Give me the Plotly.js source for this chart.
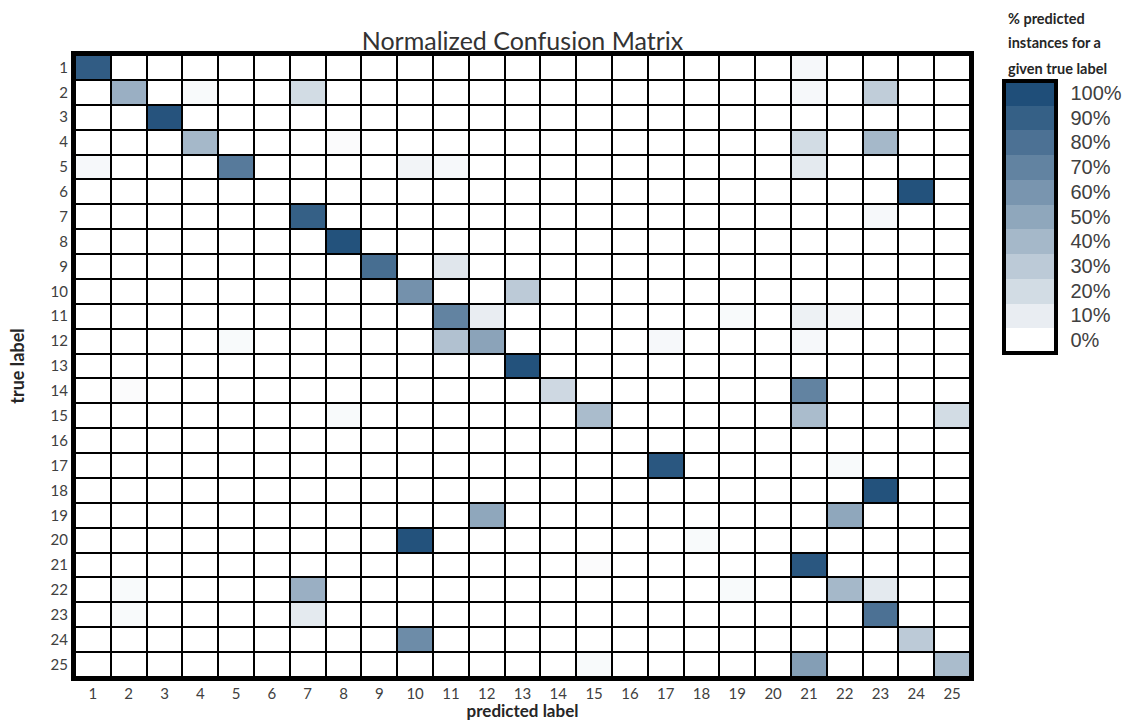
<!DOCTYPE html>
<html>
<head>
<meta charset="utf-8">
<script src="https://cdn.plot.ly/plotly-3.0.1.min.js"></script>
<style>
  html, body { margin: 0; padding: 0; background: #ffffff; }
  #chart { width: 1136px; height: 721px; }
</style>
</head>
<body>
<div id="chart"></div>
<script>
// Class labels (1..25)
const predictedLabels = [1,2,3,4,5,6,7,8,9,10,11,12,13,14,15,16,17,18,19,20,21,22,23,24,25];
const trueLabels      = [1,2,3,4,5,6,7,8,9,10,11,12,13,14,15,16,17,18,19,20,21,22,23,24,25];

// Colorbar tick values / labels
const colorbarTicks  = [0,10,20,30,40,50,60,70,80,90,100];
const colorbarLabels = ["0%","10%","20%","30%","40%","50%","60%","70%","80%","90%","100%"];

// Colorbar title lines
const colorbarTitleLines = ["% predicted", "instances for a", "given true label"];

// Non-zero cells of the normalized confusion matrix: [true label, predicted label, % value]
const nonZeroCells = [
  [1, 1, 92], [1, 21, 4],
  [2, 2, 45], [2, 4, 3], [2, 7, 20], [2, 21, 4], [2, 23, 28],
  [3, 3, 97],
  [4, 4, 40], [4, 8, 2], [4, 21, 20], [4, 23, 40],
  [5, 1, 4], [5, 5, 75], [5, 10, 6], [5, 11, 4], [5, 21, 12],
  [6, 24, 98],
  [7, 7, 90], [7, 23, 4],
  [8, 8, 98],
  [9, 9, 82], [9, 11, 14],
  [10, 10, 62], [10, 13, 30],
  [11, 11, 70], [11, 12, 10], [11, 19, 3], [11, 21, 8], [11, 22, 5],
  [12, 5, 3], [12, 11, 35], [12, 12, 52], [12, 17, 4], [12, 21, 4],
  [13, 13, 98],
  [14, 2, 2], [14, 14, 22], [14, 21, 70],
  [15, 8, 3], [15, 15, 38], [15, 21, 38], [15, 25, 20],
  [17, 17, 95], [17, 22, 3],
  [18, 23, 98],
  [19, 12, 50], [19, 22, 50],
  [20, 10, 98], [20, 18, 3],
  [21, 15, 2], [21, 21, 95],
  [22, 2, 3], [22, 7, 45], [22, 19, 3], [22, 22, 40], [22, 23, 12],
  [23, 2, 3], [23, 7, 12], [23, 23, 80],
  [24, 10, 65], [24, 24, 30],
  [25, 15, 3], [25, 21, 55], [25, 25, 38]
];

// Build the z matrix from the cell list
const z = trueLabels.map(() => predictedLabels.map(() => 0));
nonZeroCells.forEach(([t, p, v]) => { z[t - 1][p - 1] = v; });

const DARK = [31, 78, 121];
function mix(f) {
  const c = DARK.map(d => Math.round(255 + (d - 255) * f));
  return `rgb(${c[0]},${c[1]},${c[2]})`;
}

// Continuous scale for the cells
const contScale = [[0, mix(0)], [1, mix(1)]];

// Stepped scale (11 bands) for the colorbar, range -5..105
const stepScale = [];
for (let k = 0; k <= 10; k++) {
  stepScale.push([k / 11, mix(k / 10)]);
  stepScale.push([(k + 1) / 11, mix(k / 10)]);
}

const FONT = "Lato, 'Open Sans', sans-serif";
const tickFont = { family: FONT, size: 15, color: "#404040" };

const traces = [
  {
    type: "heatmap",
    x: predictedLabels,
    y: trueLabels,
    z: z,
    zmin: 0,
    zmax: 100,
    colorscale: contScale,
    showscale: false,
    xgap: 2,
    ygap: 2,
    hovertemplate: "true %{y}<br>predicted %{x}<br>%{z}%<extra></extra>"
  },
  {
    type: "heatmap",
    x: predictedLabels,
    y: trueLabels,
    z: z,
    zmin: -5,
    zmax: 105,
    colorscale: stepScale,
    xaxis: "x2",
    yaxis: "y2",
    hoverinfo: "skip",
    opacity: 0,
    showscale: true,
    colorbar: {
      x: (1007 - 75) / 898,
      xanchor: "left",
      xref: "paper",
      xpad: 0,
      y: (677 - 216.5) / 622,
      yanchor: "middle",
      yref: "paper",
      ypad: 0,
      len: 272,
      lenmode: "pixels",
      thickness: 52,
      thicknessmode: "pixels",
      outlinewidth: 4,
      outlinecolor: "#000000",
      borderwidth: 0,
      tickmode: "array",
      tickvals: colorbarTicks,
      ticktext: colorbarLabels,
      ticks: "outside",
      ticklen: 9,
      tickwidth: 1,
      tickcolor: "rgba(0,0,0,0)",
      ticklabelposition: "outside",
      tickfont: { family: "'Liberation Sans', Arial, sans-serif", size: 20, color: "#404040" }
    }
  }
];

const annotations = colorbarTitleLines.map((line, i) => ({
  text: "<b>" + line + "</b>",
  xref: "paper",
  yref: "paper",
  x: (1009 - 75) / 898,
  xanchor: "left",
  y: (677 - (18 + 25 * i)) / 622,
  yanchor: "middle",
  showarrow: false,
  font: { family: FONT, size: 14.5, color: "#262626" }
}));

const layout = {
  width: 1136,
  height: 721,
  margin: { l: 75, r: 163, t: 55, b: 44 },
  paper_bgcolor: "#ffffff",
  plot_bgcolor: "#000000",
  title: {
    text: "Normalized Confusion Matrix",
    x: 0.5,
    xref: "paper",
    xanchor: "center",
    y: 1 - 41 / 721,
    yref: "container",
    yanchor: "middle",
    font: { family: FONT, size: 25, color: "#333333" }
  },
  annotations: annotations,
  xaxis: {
    tickmode: "array",
    tickvals: predictedLabels,
    ticktext: predictedLabels.map(String),
    range: [0.5, 25.5],
    showgrid: false,
    zeroline: false,
    showline: true,
    mirror: true,
    linewidth: 4,
    linecolor: "#000000",
    ticks: "",
    ticklen: 0,
    tickfont: tickFont,
    title: {
      text: "<b>predicted label</b>",
      standoff: 3,
      font: { family: FONT, size: 17, color: "#262626" }
    },
    fixedrange: true
  },
  yaxis: {
    tickmode: "array",
    tickvals: trueLabels,
    ticktext: trueLabels.map(String),
    range: [25.5, 0.5],
    showgrid: false,
    zeroline: false,
    showline: true,
    mirror: true,
    linewidth: 4,
    linecolor: "#000000",
    ticks: "",
    ticklen: 0,
    tickfont: tickFont,
    title: {
      text: "<b>true label</b>",
      standoff: 22,
      font: { family: FONT, size: 18, color: "#262626" }
    },
    fixedrange: true
  },
  xaxis2: { domain: [0, 0.001], visible: false, anchor: "y2" },
  yaxis2: { domain: [0, 0.001], visible: false, anchor: "x2" }
};

Plotly.newPlot("chart", traces, layout, { displayModeBar: false, staticPlot: true });
</script>
</body>
</html>
